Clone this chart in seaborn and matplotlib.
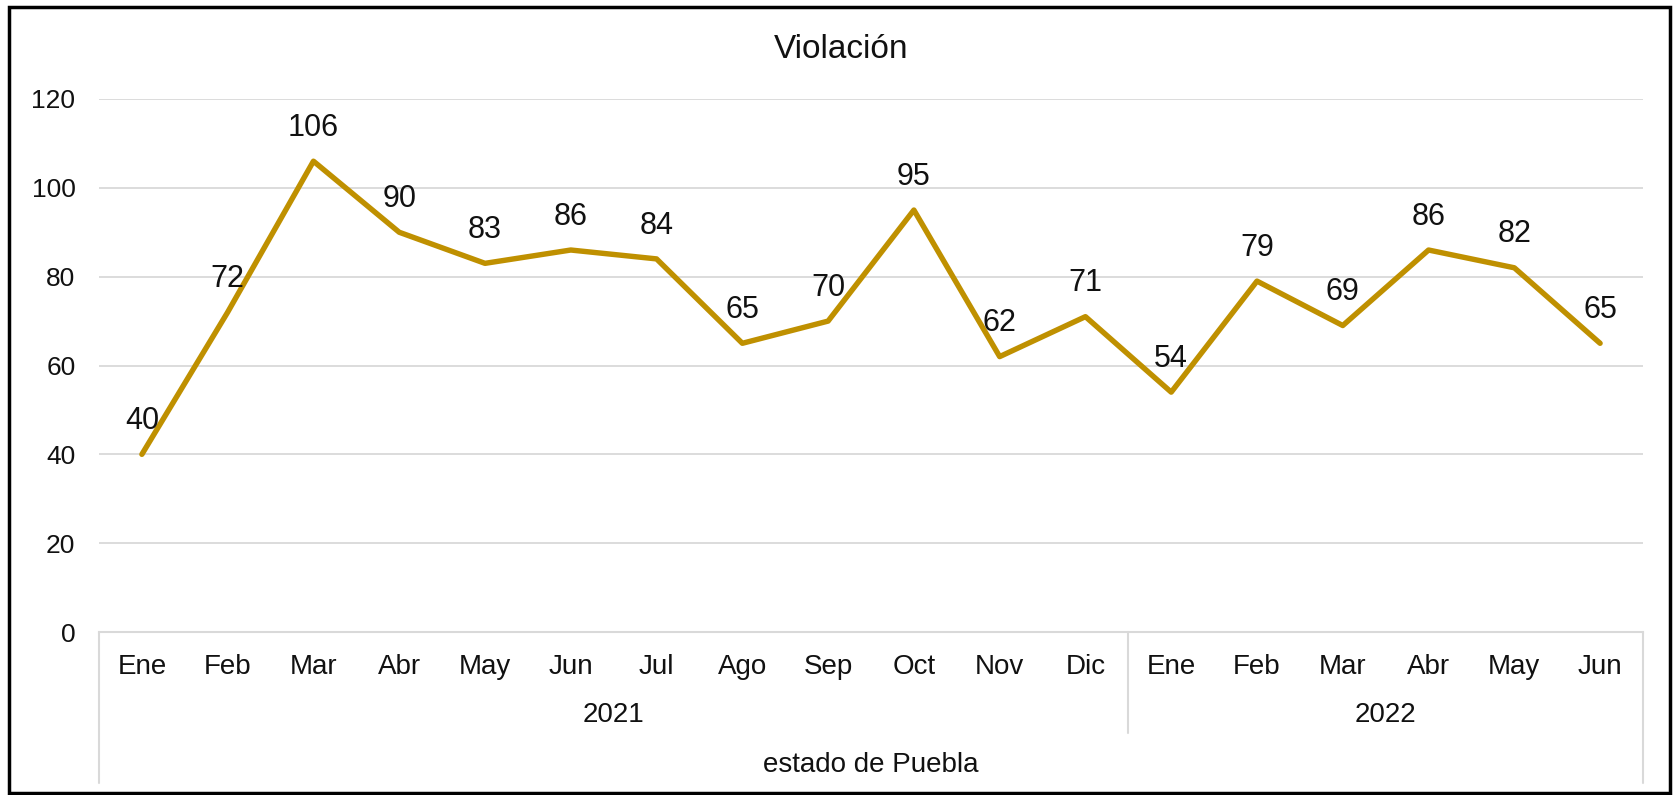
import numpy as np
import matplotlib
matplotlib.use("Agg")
import matplotlib.pyplot as plt
import matplotlib.transforms as mtransforms
from matplotlib.patches import Rectangle
import seaborn as sns

months = ["Ene", "Feb", "Mar", "Abr", "May", "Jun", "Jul", "Ago", "Sep", "Oct", "Nov", "Dic",
          "Ene", "Feb", "Mar", "Abr", "May", "Jun"]
values = [40, 72, 106, 90, 83, 86, 84, 65, 70, 95, 62, 71, 54, 79, 69, 86, 82, 65]
years = ["2021", "2022"]
year_counts = [12, 6]
title = "Violación"
group_label = "estado de Puebla"
yticks = [0, 20, 40, 60, 80, 100, 120]

sns.set_style("white")
plt.rcParams['font.family'] = ['Liberation Sans', 'DejaVu Sans']
TXT = "#111111"

W, H = 1674, 795
fig = plt.figure(figsize=(W / 100, H / 100), dpi=100)
ax_left, ax_right = 99 / W, 1643 / W
ax_bottom, ax_top = (H - 632) / H, (H - 99) / H
ax = fig.add_axes([ax_left, ax_bottom, ax_right - ax_left, ax_top - ax_bottom])

pos = np.arange(len(values))
sns.lineplot(x=pos, y=values, ax=ax, color="#BF9000", linewidth=3.9, zorder=3)

ax.set_xlim(-0.5, len(values) - 0.5)
ax.set_ylim(0, 120)
ax.set_yticks(yticks)
ax.yaxis.grid(True, color="#D9D9D9", linewidth=1.3)
ax.set_axisbelow(True)
for s in ["top", "right", "left"]:
    ax.spines[s].set_visible(False)
ax.spines["bottom"].set_color("#D9D9D9")
ax.spines["bottom"].set_linewidth(1.5)
ax.set_xticks([])
ax.tick_params(axis="y", length=0, pad=17, labelsize=19, labelcolor=TXT)
ax.set_xlabel("")
ax.set_ylabel("")

for x, v in zip(pos, values):
    ax.annotate(str(v), (x, v), xytext=(0, 24), textcoords="offset points",
                ha="center", va="center", fontsize=22, color=TXT)

trans = mtransforms.blended_transform_factory(ax.transData, ax.transAxes)
ph = 632 - 99
def ay(py):
    return -(py - 632) / ph

for x, m in zip(pos, months):
    ax.text(x, ay(667), m, transform=trans, ha="center", va="center",
            fontsize=20, color=TXT, clip_on=False)

start = -0.5
for yr, c in zip(years, year_counts):
    ax.text(start + c / 2, ay(715), yr, transform=trans, ha="center", va="center",
            fontsize=20, color=TXT, clip_on=False)
    start += c

ax.text((len(values) - 1) / 2, ay(765), group_label, transform=trans, ha="center",
        va="center", fontsize=20, color=TXT, clip_on=False)

sep_color = "#D9D9D9"
for xx in [-0.5, len(values) - 0.5]:
    ax.plot([xx, xx], [0, ay(783)], transform=trans, color=sep_color, lw=1.5, clip_on=False)
ax.plot([11.5, 11.5], [0, ay(733)], transform=trans, color=sep_color, lw=1.5, clip_on=False)

fig.text(841 / W, 1 - 50 / H, title, ha="center", va="center", fontsize=24, color=TXT)

fig.patches.append(Rectangle((9 / W, 2 / H), (1670 - 9) / W, (788 - 2) / H,
                             transform=fig.transFigure, fill=False,
                             edgecolor="black", linewidth=2.5))

fig.savefig("out.png", dpi=100)
